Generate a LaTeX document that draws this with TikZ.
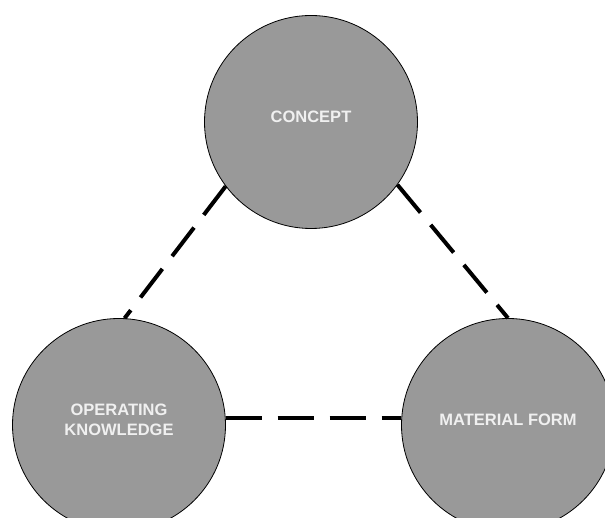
\documentclass[tikz,border=0pt]{standalone}
\usepackage{fontspec}
\newfontfamily\labelfont{Liberation Sans}
\usetikzlibrary{positioning}
\definecolor{discgray}{RGB}{153,153,153}
\definecolor{labelwhite}{RGB}{240,240,240}

\begin{document}
\begin{tikzpicture}[
    x=1pt, y=1pt,
    phase/.style={circle, draw=black, line width=0.8pt, fill=discgray, inner sep=0pt,
        minimum size=213pt},
    caption/.style={text=labelwhite, align=center, yshift=5pt,
        font=\labelfont\bfseries\fontsize{16.5}{20}\selectfont},
    link/.style={line width=4pt, dash pattern=on 36pt off 16pt}
]
    \useasboundingbox (0,0) rectangle (605,518);
    \clip (0,0) rectangle (605,518);

    \node[phase, label={[caption]center:CONCEPT}] (concept) at (311,396) {};
    \node[phase, label={[caption]center:OPERATING\\KNOWLEDGE}] (operating) at (119,93) {};
    \node[phase, label={[caption]center:MATERIAL FORM}] (material) at (508,93) {};

    \draw[link] (concept.217) -- (operating.87);
    \draw[link] (concept.324) -- (material.north);
    \draw[link] (operating.4) -- (material.176);
\end{tikzpicture}
\end{document}
